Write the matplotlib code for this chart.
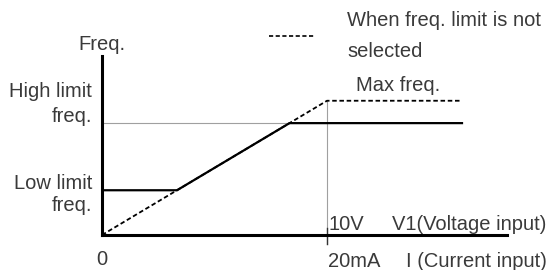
import matplotlib.pyplot as plt

# Données (tension d'entrée V, fréquence Hz)
v_full = 10            # 10V / 20mA
f_max = 60             # fréquence max
f_high = 50            # limite haute
f_low = 20             # limite basse
v_end = 16             # fin des courbes
x_axis_end = 18
y_axis_end = 80

# courbe avec limites (trait plein)
v_limited = [0, f_low / f_max * v_full, f_high / f_max * v_full, v_end]
f_limited = [f_low, f_low, f_high, f_high]

# courbe sans limite (pointillés)
v_free = [0, v_full, v_end]
f_free = [0, f_max, f_max]

txt = "#3a3a3a"
plt.rcParams['font.family'] = ['Liberation Sans', 'DejaVu Sans']

fig = plt.figure(figsize=(5.48, 2.70), dpi=100)
W, H = 548, 270
ax = fig.add_axes([102 / W, (H - 235) / H, (507 - 102) / W, (235 - 56) / H])
ax.set_xlim(0, x_axis_end)
ax.set_ylim(0, y_axis_end)

for s in ["top", "right"]:
    ax.spines[s].set_visible(False)
ax.spines["left"].set_linewidth(2.2)
ax.spines["bottom"].set_linewidth(2.2)
ax.set_xticks([])
ax.set_yticks([])

# repères gris
ax.plot([0, v_full], [f_high, f_high], color="#a0a0a0", lw=0.8, zorder=1)
ax.plot([v_full, v_full], [-4, f_max], color="#a0a0a0", lw=0.8, zorder=1, clip_on=False)
ax.plot([v_full, v_full], [-4, 3], color="#333333", lw=1.0, zorder=1, clip_on=False)

ax.plot(v_free, f_free, color="black", lw=1.3, ls=(0, (2.5, 1.5)), zorder=2)
ax.plot(v_limited, f_limited, color="black", lw=1.6, zorder=3)

# légende
ax.plot([7.4, 9.4], [89, 89], color="black", lw=1.2, ls=(0, (2.5, 1.5)), clip_on=False)
fs = 14.5
ax.text(10.9, 96, "When freq. limit is not", color=txt, fontsize=fs, va="center", clip_on=False)
ax.text(10.9, 82, "selected", color=txt, fontsize=fs, va="center", clip_on=False)

ax.text(11.3, 67, "Max freq.", color=txt, fontsize=fs, va="center")
ax.text(0, 85, "Freq.", color=txt, fontsize=fs, ha="center", va="center", clip_on=False)
ax.text(-0.45, 64, "High limit", color=txt, fontsize=fs, ha="right", va="center", clip_on=False)
ax.text(-0.45, 53, "freq.", color=txt, fontsize=fs, ha="right", va="center", clip_on=False)
ax.text(-0.45, 23, "Low limit", color=txt, fontsize=fs, ha="right", va="center", clip_on=False)
ax.text(-0.45, 13, "freq.", color=txt, fontsize=fs, ha="right", va="center", clip_on=False)
ax.text(0, -11, "0", color=txt, fontsize=fs, ha="center", va="center", clip_on=False)

ax.text(10.05, 4.5, "10V", color=txt, fontsize=fs, va="center", clip_on=False)
ax.text(19.75, 4.5, "V1(Voltage input)", color=txt, fontsize=fs, ha="right", va="center", clip_on=False)
ax.text(10.05, -12, "20mA", color=txt, fontsize=fs, va="center", clip_on=False)
ax.text(19.75, -12, "I (Current input)", color=txt, fontsize=fs, ha="right", va="center", clip_on=False)

fig.savefig("out.png", dpi=100)
